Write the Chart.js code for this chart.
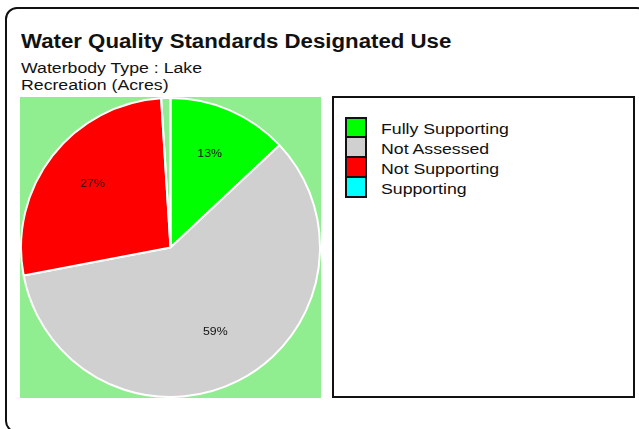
<!DOCTYPE html>
<html>
<head>
<meta charset="utf-8">
<script src="https://cdn.jsdelivr.net/npm/chart.js@4.4.1/dist/chart.umd.min.js"></script>
<style>
  html, body { margin: 0; padding: 0; background: #fff; overflow: hidden; }
  body { width: 639px; height: 429px; position: relative; font-family: "Liberation Sans", Arial, sans-serif; color: #111; }
  .frame { position: absolute; left: 5px; top: 7px; width: 640px; height: 422px; border: 2.5px solid #111; border-radius: 12px; }
  .wide { transform: scaleX(1.15); transform-origin: 0 0; }
  .title { position: absolute; left: 21px; top: 31.5px; font-size: 19.5px; line-height: 19.5px; font-weight: bold; white-space: nowrap; transform: scaleX(1.14); transform-origin: 0 0; }
  .sub { position: absolute; left: 21px; font-size: 15.4px; line-height: 15.4px; white-space: nowrap; }
  #pieWrap { position: absolute; left: 20px; top: 97px; width: 301px; height: 301px; background: #90ee90; }
  #legendBox { position: absolute; left: 332px; top: 96px; width: 299px; height: 298px; border: 2px solid #111; background: #fff; }
  #legendBox ul { list-style: none; margin: 0; padding: 0; position: absolute; left: 11px; top: 19px; }
  #legendBox li { height: 20px; position: relative; }
  #legendBox .sw { position: absolute; left: 0; top: 0; width: 18px; height: 18px; border: 2px solid #111; box-sizing: content-box; }
  #legendBox li + li .sw { top: -1px; }
  #legendBox .lbl { position: absolute; left: 36px; top: 3px; font-size: 15.4px; white-space: nowrap; line-height: 18px; }
</style>
</head>
<body>
<div class="frame"></div>
<div class="title">Water Quality Standards Designated Use</div>
<div class="sub wide" style="top:60px">Waterbody Type : Lake</div>
<div class="sub wide" style="top:77px">Recreation (Acres)</div>
<div id="pieWrap"><canvas id="usePie" width="301" height="301"></canvas></div>
<div id="legendBox"><ul id="legendList"></ul></div>

<script>
// share of lake acres by support status (percent)
const categories = ['Fully Supporting', 'Not Assessed', 'Not Supporting', 'Supporting'];
const acresPct = [13, 59, 27, 1];
const sliceColors = ['#00ff00', '#d0d0d0', '#ff0000', '#00ffff'];

const total = acresPct.reduce((a, b) => a + b, 0);

// percent text inside each slice, skipped for tiny ones
const sliceLabels = {
  id: 'sliceLabels',
  afterDatasetsDraw(chart) {
    const c = chart.ctx;
    const meta = chart.getDatasetMeta(0);
    c.save();
    c.font = '11px "Liberation Sans", Arial, sans-serif';
    c.fillStyle = '#111';
    c.textAlign = 'center';
    c.textBaseline = 'alphabetic';
    meta.data.forEach((arc, i) => {
      const share = acresPct[i] / total;
      if (share < 0.05) return;
      const p = arc.getProps(['x', 'y', 'startAngle', 'endAngle', 'outerRadius'], true);
      const mid = (p.startAngle + p.endAngle) / 2;
      const r = p.outerRadius * 0.66;
      const tx = p.x + Math.cos(mid) * r;
      const ty = p.y + Math.sin(mid) * r;
      c.save();
      c.translate(tx, ty);
      c.scale(1.12, 1);
      c.fillText(Math.round(share * 100) + '%', 0, 0);
      c.restore();
    });
    c.restore();
  }
};

const pie = new Chart(document.getElementById('usePie'), {
  type: 'pie',
  data: {
    labels: categories,
    datasets: [{
      data: acresPct,
      // slices under ~1.5% are left unfilled, only outlined
      backgroundColor: ctx => (acresPct[ctx.dataIndex] / total < 0.015 ? 'rgba(0,0,0,0)' : sliceColors[ctx.dataIndex]),
      borderColor: '#ffffff',
      borderWidth: 2
    }]
  },
  options: {
    responsive: false,
    animation: false,
    layout: { padding: 0 },
    plugins: {
      legend: { display: false },
      tooltip: { enabled: false }
    }
  },
  plugins: [sliceLabels]
});

// legend list built from the same categories and colours
const list = document.getElementById('legendList');
categories.forEach((name, i) => {
  const li = document.createElement('li');
  const sw = document.createElement('span');
  sw.className = 'sw';
  sw.style.background = sliceColors[i];
  const lbl = document.createElement('span');
  lbl.className = 'lbl wide';
  lbl.textContent = name;
  li.appendChild(sw);
  li.appendChild(lbl);
  list.appendChild(li);
});
</script>
</body>
</html>
